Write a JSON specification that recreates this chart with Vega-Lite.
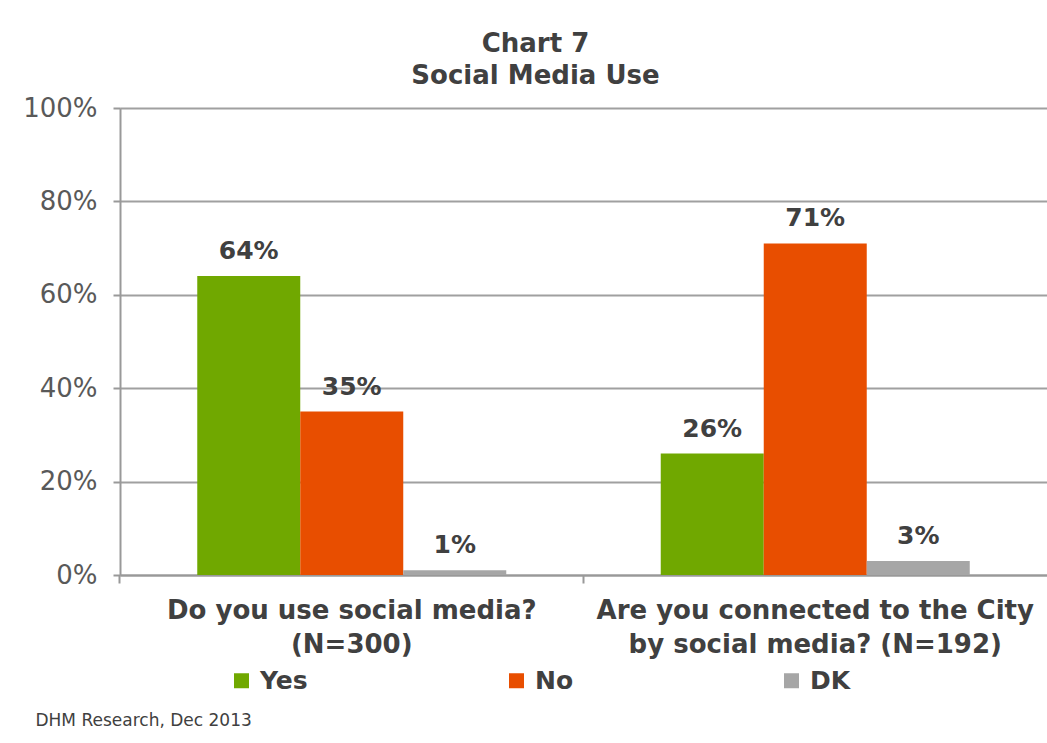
{
  "$schema": "https://vega.github.io/schema/vega-lite/v6.json",
  "width": 927,
  "height": 467,
  "autosize": {"type": "none"},
  "padding": {"left": 120, "top": 108, "right": 0, "bottom": 168},
  "background": "white",
  "title": {
    "text": ["Chart 7", "Social Media Use"],
    "font": "DejaVu Sans",
    "fontSize": 26,
    "fontWeight": "bold",
    "color": "#404040",
    "lineHeight": 32,
    "offset": 6,
    "dx": -48
  },
  "data": {
    "values": [
      {"question": "q1", "answer": "Yes", "pct": 0.64},
      {"question": "q1", "answer": "No", "pct": 0.35},
      {"question": "q1", "answer": "DK", "pct": 0.01},
      {"question": "q2", "answer": "Yes", "pct": 0.26},
      {"question": "q2", "answer": "No", "pct": 0.71},
      {"question": "q2", "answer": "DK", "pct": 0.03}
    ]
  },
  "encoding": {
    "x": {
      "field": "question",
      "type": "nominal",
      "scale": {"paddingInner": 0.3333, "paddingOuter": 0.16667},
      "axis": {
        "title": "DHM Research, Dec 2013",
        "titleFont": "DejaVu Sans",
        "titleFontWeight": "normal",
        "titleFontSize": 17,
        "titleColor": "#404040",
        "titleAnchor": "start",
        "titleAlign": "left",
        "titleX": -85,
        "titleY": 150,
        "titleBaseline": "alphabetic",
        "labelAngle": 0,
        "labelExpr": "datum.value == 'q1' ? ['Do you use social media?', '(N=300)'] : ['Are you connected to the City', 'by social media? (N=192)']",
        "labelFont": "DejaVu Sans",
        "labelFontSize": 26,
        "labelFontWeight": "bold",
        "labelColor": "#404040",
        "labelLineHeight": 34,
        "labelPadding": 14,
        "labelBaseline": "top",
        "labelLimit": 0,
        "bandPosition": -0.25,
        "tickSize": 8,
        "tickColor": "#999999",
        "tickWidth": 2,
        "domainColor": "#999999",
        "domainWidth": 2,
        "grid": false
      }
    },
    "xOffset": {
      "field": "answer",
      "type": "nominal",
      "sort": ["Yes", "No", "DK"],
      "scale": {"paddingInner": 0, "paddingOuter": 0}
    },
    "y": {
      "field": "pct",
      "type": "quantitative",
      "scale": {"domain": [0, 1], "nice": false},
      "axis": {
        "title": null,
        "values": [0, 0.2, 0.4, 0.6, 0.8, 1],
        "format": ".0%",
        "labelFont": "DejaVu Sans",
        "labelFontSize": 26,
        "labelColor": "#595959",
        "labelPadding": 16,
        "tickSize": 7,
        "tickColor": "#999999",
        "tickWidth": 2,
        "domainColor": "#999999",
        "domainWidth": 2,
        "grid": true,
        "gridColor": "#A0A0A0",
        "gridWidth": 2
      }
    }
  },
  "layer": [
    {
      "mark": {"type": "bar"},
      "encoding": {
        "color": {
          "field": "answer",
          "type": "nominal",
          "sort": ["Yes", "No", "DK"],
          "scale": {"domain": ["Yes", "No", "DK"], "range": ["#70A800", "#E84E00", "#A6A6A6"]},
          "legend": {
            "title": null,
            "orient": "none",
            "direction": "horizontal",
            "legendX": 109,
            "legendY": 560,
            "symbolType": "square",
            "symbolSize": 225,
            "symbolStrokeWidth": 0,
            "symbolOpacity": 1,
            "labelFont": "DejaVu Sans",
            "labelFontSize": 25,
            "labelFontWeight": "bold",
            "labelColor": "#404040",
            "labelOffset": 6,
            "columnPadding": 196,
            "gridAlign": "all"
          }
        }
      }
    },
    {
      "mark": {
        "type": "text",
        "baseline": "bottom",
        "dy": -12,
        "font": "DejaVu Sans",
        "fontSize": 25,
        "fontWeight": "bold",
        "color": "#404040"
      },
      "encoding": {
        "text": {"field": "pct", "type": "quantitative", "format": ".0%"}
      }
    }
  ]
}
